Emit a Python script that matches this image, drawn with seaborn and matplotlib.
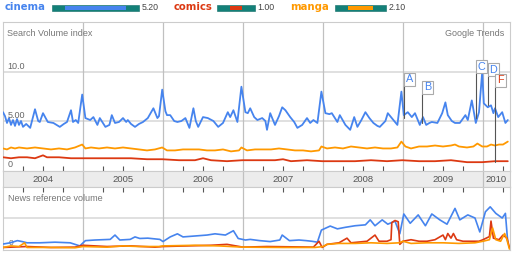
import matplotlib
matplotlib.use("Agg")
import matplotlib.pyplot as plt
from matplotlib.patches import Rectangle, FancyBboxPatch
import seaborn as sns

# ---------------- data ----------------
series_names = ["cinema", "comics", "manga"]
series_avgs = [5.20, 1.00, 2.10]
series_colors = ["#4684ee", "#dc3912", "#ff9900"]

year_labels = [2004, 2005, 2006, 2007, 2008, 2009, 2010]
x_start, x_end = 2004.0, 2010.3375

cinema_years = [2004.00, 2004.025, 2004.05, 2004.075, 2004.10, 2004.125, 2004.15, 2004.175, 2004.20, 2004.225,
                2004.25, 2004.29, 2004.34, 2004.40, 2004.44, 2004.46, 2004.50, 2004.56, 2004.63, 2004.71,
                2004.76, 2004.80, 2004.85, 2004.875, 2004.91, 2004.94, 2004.99, 2005.03, 2005.06, 2005.09,
                2005.13, 2005.18, 2005.21, 2005.28, 2005.33, 2005.36, 2005.40, 2005.45, 2005.50, 2005.54,
                2005.56, 2005.60, 2005.65, 2005.70, 2005.75, 2005.81, 2005.88, 2005.93, 2005.95, 2005.99,
                2006.03, 2006.05, 2006.09, 2006.14, 2006.18, 2006.23, 2006.28, 2006.33, 2006.38, 2006.41,
                2006.44, 2006.50, 2006.56, 2006.63, 2006.69, 2006.75, 2006.81, 2006.84, 2006.88, 2006.93,
                2006.98, 2007.03, 2007.06, 2007.09, 2007.14, 2007.18, 2007.24, 2007.28, 2007.30, 2007.34,
                2007.40, 2007.45, 2007.49, 2007.53, 2007.59, 2007.64, 2007.68, 2007.74, 2007.80, 2007.84,
                2007.88, 2007.93, 2007.98, 2008.03, 2008.08, 2008.11, 2008.18, 2008.21, 2008.28, 2008.34,
                2008.39, 2008.43, 2008.48, 2008.53, 2008.58, 2008.63, 2008.68, 2008.71, 2008.78, 2008.81,
                2008.88, 2008.93, 2008.98, 2009.01, 2009.06, 2009.11, 2009.15, 2009.21, 2009.25, 2009.29,
                2009.33, 2009.36, 2009.43, 2009.49, 2009.53, 2009.56, 2009.61, 2009.65, 2009.71, 2009.78,
                2009.81, 2009.86, 2009.91, 2009.95, 2009.99, 2010.01, 2010.06, 2010.10, 2010.13, 2010.15,
                2010.19, 2010.24, 2010.28, 2010.31]
cinema_values = [5.9, 5.5, 4.8, 5.3, 4.6, 5.1, 4.5, 5.2, 4.6, 5.0,
                 4.4, 4.7, 4.3, 6.2, 5.0, 4.9, 5.8, 4.9, 4.8, 4.4,
                 4.7, 4.9, 6.1, 4.9, 5.1, 4.8, 7.7, 5.3, 5.2, 5.1,
                 5.4, 4.6, 5.3, 4.4, 4.6, 5.6, 4.8, 4.9, 5.3, 4.9,
                 5.1, 4.7, 4.4, 4.7, 4.9, 5.3, 6.3, 5.3, 5.5, 8.2,
                 6.0, 5.6, 5.6, 5.0, 4.9, 5.0, 5.3, 4.3, 6.3, 5.0,
                 4.4, 5.4, 5.3, 5.0, 4.4, 4.8, 5.9, 5.4, 6.1, 4.9,
                 8.5, 5.9, 5.8, 6.3, 5.4, 5.1, 5.3, 5.0, 4.1, 5.8,
                 4.6, 5.5, 6.4, 6.1, 5.4, 4.9, 4.3, 4.6, 5.3, 4.8,
                 5.1, 4.8, 8.0, 5.8, 5.7, 5.8, 4.9, 5.6, 4.6, 4.1,
                 5.4, 4.4, 5.1, 5.9, 5.3, 4.8, 4.5, 4.4, 5.0, 5.8,
                 5.1, 4.6, 8.0, 5.6, 5.9, 5.4, 5.8, 4.6, 5.4, 4.6,
                 4.8, 4.9, 4.8, 5.8, 6.9, 5.6, 5.0, 4.8, 4.8, 5.6,
                 5.1, 7.1, 4.8, 5.9, 10.0, 6.8, 6.4, 6.6, 5.8, 6.3,
                 5.4, 5.9, 4.8, 5.1]

manga_years = [2004.00, 2004.05, 2004.10, 2004.15, 2004.20, 2004.30, 2004.40, 2004.50, 2004.60, 2004.70,
               2004.80, 2004.90, 2004.99, 2005.03, 2005.10, 2005.20, 2005.30, 2005.40, 2005.50, 2005.60,
               2005.70, 2005.80, 2005.90, 2005.99, 2006.05, 2006.15, 2006.25, 2006.35, 2006.45, 2006.55,
               2006.65, 2006.75, 2006.85, 2006.95, 2006.98, 2007.05, 2007.15, 2007.25, 2007.35, 2007.45,
               2007.55, 2007.65, 2007.75, 2007.85, 2007.95, 2007.98, 2008.05, 2008.15, 2008.25, 2008.35,
               2008.45, 2008.55, 2008.65, 2008.75, 2008.85, 2008.93, 2008.98, 2009.03, 2009.10, 2009.20,
               2009.30, 2009.40, 2009.50, 2009.60, 2009.65, 2009.70, 2009.80, 2009.88, 2009.93, 2009.99,
               2010.05, 2010.10, 2010.15, 2010.20, 2010.25, 2010.31]
manga_values = [2.2, 2.1, 2.3, 2.2, 2.3, 2.2, 2.3, 2.2, 2.1, 2.2,
                2.1, 2.3, 2.6, 2.2, 2.3, 2.2, 2.3, 2.2, 2.3, 2.2,
                2.1, 2.0, 2.1, 2.3, 2.0, 2.0, 2.1, 2.1, 2.1, 2.0,
                2.0, 2.1, 1.9, 2.0, 2.3, 2.0, 2.1, 2.1, 2.1, 2.2,
                2.1, 2.0, 2.0, 1.9, 2.0, 2.4, 2.2, 2.3, 2.2, 2.4,
                2.3, 2.2, 2.3, 2.2, 2.2, 2.3, 2.9, 2.4, 2.2, 2.4,
                2.4, 2.5, 2.4, 2.5, 2.6, 2.4, 2.3, 2.4, 2.7, 2.4,
                2.4, 2.6, 2.5, 2.6, 2.6, 2.9]

comics_years = [2004.00, 2004.10, 2004.20, 2004.30, 2004.40, 2004.50, 2004.55, 2004.70, 2004.85, 2004.99,
                2005.20, 2005.40, 2005.60, 2005.80, 2005.99, 2006.20, 2006.40, 2006.50, 2006.60, 2006.80,
                2006.99, 2007.20, 2007.40, 2007.50, 2007.60, 2007.80, 2007.99, 2008.20, 2008.40, 2008.60,
                2008.80, 2008.99, 2009.20, 2009.40, 2009.60, 2009.80, 2009.99, 2010.15, 2010.31]
comics_values = [1.3, 1.2, 1.3, 1.3, 1.2, 1.5, 1.3, 1.3, 1.2, 1.2,
                 1.2, 1.2, 1.2, 1.1, 1.1, 1.0, 1.0, 1.2, 1.0, 0.9,
                 1.0, 1.0, 1.0, 1.1, 0.9, 1.0, 0.9, 0.9, 0.9, 1.0,
                 0.9, 1.0, 0.9, 0.9, 1.0, 0.8, 0.8, 0.9, 0.9]

# news reference volume
cinema_news_years = [2004.00, 2004.09, 2004.18, 2004.24, 2004.30, 2004.46, 2004.65, 2004.84, 2004.96, 2005.03,
                     2005.15, 2005.34, 2005.40, 2005.46, 2005.59, 2005.65, 2005.71, 2005.81, 2005.96, 2006.00,
                     2006.09, 2006.18, 2006.25, 2006.40, 2006.55, 2006.65, 2006.78, 2006.88, 2006.94, 2007.03,
                     2007.09, 2007.21, 2007.34, 2007.46, 2007.49, 2007.58, 2007.70, 2007.79, 2007.86, 2007.93,
                     2007.98, 2008.09, 2008.18, 2008.28, 2008.40, 2008.53, 2008.59, 2008.65, 2008.74, 2008.81,
                     2008.90, 2008.96, 2009.01, 2009.09, 2009.19, 2009.28, 2009.36, 2009.46, 2009.55, 2009.65,
                     2009.71, 2009.81, 2009.90, 2009.96, 2010.03, 2010.09, 2010.16, 2010.24, 2010.28, 2010.31]
cinema_news_values = [0.16, 0.20, 0.27, 0.24, 0.20, 0.20, 0.22, 0.20, 0.10, 0.27,
                      0.29, 0.31, 0.45, 0.29, 0.31, 0.39, 0.34, 0.35, 0.31, 0.24,
                      0.39, 0.49, 0.39, 0.42, 0.45, 0.49, 0.45, 0.59, 0.34, 0.29,
                      0.31, 0.27, 0.24, 0.29, 0.45, 0.27, 0.29, 0.27, 0.25, 0.22,
                      0.61, 0.74, 0.65, 0.70, 0.75, 0.78, 0.94, 0.75, 0.94, 0.80,
                      0.90, 0.49, 1.13, 0.83, 1.10, 0.75, 1.13, 0.94, 0.80, 1.31,
                      0.94, 1.10, 1.00, 0.55, 1.20, 1.36, 1.15, 1.00, 1.15, 0.20]

comics_news_years = [2004.00, 2004.30, 2004.60, 2004.90, 2005.00, 2005.30, 2005.60, 2005.90, 2006.00, 2006.30,
                     2006.60, 2006.80, 2007.00, 2007.30, 2007.60, 2007.88, 2007.95, 2007.99, 2008.05, 2008.20,
                     2008.30, 2008.35, 2008.55, 2008.65, 2008.70, 2008.80, 2008.85, 2008.86, 2008.90, 2008.94,
                     2008.96, 2009.00, 2009.10, 2009.20, 2009.30, 2009.40, 2009.50, 2009.53, 2009.56, 2009.60,
                     2009.63, 2009.67, 2009.75, 2009.85, 2009.95, 2010.00, 2010.08, 2010.10, 2010.13, 2010.20,
                     2010.25, 2010.30, 2010.33]
comics_news_values = [0.05, 0.08, 0.05, 0.06, 0.12, 0.08, 0.10, 0.06, 0.08, 0.10,
                      0.12, 0.15, 0.06, 0.08, 0.07, 0.06, 0.25, 0.05, 0.15, 0.20,
                      0.35, 0.20, 0.25, 0.45, 0.25, 0.25, 0.30, 0.85, 0.92, 0.88,
                      0.15, 0.25, 0.30, 0.25, 0.25, 0.30, 0.45, 0.30, 0.50, 0.35,
                      0.50, 0.30, 0.25, 0.25, 0.25, 0.30, 0.40, 0.90, 0.35, 0.30,
                      0.45, 0.35, 0.05]

manga_news_years = [2004.00, 2004.10, 2004.20, 2004.27, 2004.30, 2004.60, 2004.90, 2005.00, 2005.30, 2005.50,
                    2005.70, 2005.95, 2006.00, 2006.40, 2006.70, 2007.00, 2007.50, 2007.90, 2008.00, 2008.05,
                    2008.20, 2008.40, 2008.60, 2008.80, 2008.95, 2009.00, 2009.10, 2009.30, 2009.50, 2009.70,
                    2009.90, 2010.00, 2010.08, 2010.12, 2010.16, 2010.22, 2010.27, 2010.30, 2010.33]
manga_news_values = [0.05, 0.10, 0.08, 0.20, 0.05, 0.05, 0.04, 0.08, 0.06, 0.10,
                     0.08, 0.08, 0.10, 0.12, 0.10, 0.06, 0.05, 0.05, 0.08, 0.15,
                     0.18, 0.18, 0.20, 0.18, 0.20, 0.25, 0.18, 0.20, 0.20, 0.18,
                     0.20, 0.25, 0.30, 0.68, 0.30, 0.25, 0.50, 0.30, 0.00]

# annotations (event markers)
event_letters = ["A", "B", "C", "D", "F"]
event_series = ["cinema", "cinema", "cinema", "cinema", "comics"]
event_dates = [2009.01, 2009.24, 2009.91, 2010.06, 2010.15]
event_values = [5.3, 4.8, 5.3, 6.6, 0.8]

# ---------------- style ----------------
sns.set_theme(style="white")
plt.rcParams["font.family"] = ["Liberation Sans", "DejaVu Sans"]

W, H = 512, 256
fig = plt.figure(figsize=(W / 100, H / 100), dpi=100)


def fx(px):
    return px / W


def fy(py):
    return 1 - py / H


grid_c = "#dddddd"
frame_c = "#cccccc"
year_c = "#c0c0c0"
text_c = "#666666"

# ---------------- legend row ----------------
legend_layout = [(5, 52), (174, 217), (290, 335)]  # name x, box x (px)
px_per_unit = 11.7
for name, avg, col, (nx, bx) in zip(series_names, series_avgs, series_colors, legend_layout):
    fig.text(fx(nx), fy(7.5), name, color=col, fontsize=7.3, fontweight="bold",
             family="DejaVu Sans", va="center", ha="left")
    inner = avg * px_per_unit
    bw = inner + 26
    fig.patches.append(Rectangle((fx(bx), fy(11)), fx(bw), 6 / H, transform=fig.transFigure,
                                 facecolor="#138078", edgecolor="#0f6c65", lw=0.4))
    fig.patches.append(Rectangle((fx(bx + 13), fy(10)), fx(inner), 4 / H, transform=fig.transFigure,
                                 facecolor=col, edgecolor="none"))
    fig.text(fx(bx + bw + 3), fy(7.5), f"{avg:.2f}", color="#444444", fontsize=6.3,
             va="center", ha="left")

# ---------------- top panel ----------------
ax = fig.add_axes([fx(3), fy(171), fx(507), 149 / H])
for name, xs, ys, col in [("comics", comics_years, comics_values, series_colors[1]),
                          ("manga", manga_years, manga_values, series_colors[2]),
                          ("cinema", cinema_years, cinema_values, series_colors[0])]:
    sns.lineplot(x=xs, y=ys, ax=ax, color=col, lw=1.3, estimator=None, sort=False, zorder=3)
ax.set_xlim(x_start, x_end)
ax.set_ylim(-0.1, 15.1)
for v in [5, 10]:
    ax.axhline(v, color=grid_c, lw=1.3, zorder=1)
for yv in year_labels[1:]:
    ax.axvline(yv, color=year_c, lw=0.9, zorder=2)
ax.set_xticks([y + q for y in year_labels for q in (0.25, 0.5, 0.75) if y + q < x_end], minor=True)
ax.set_xticks([])
ax.set_yticks([])
ax.tick_params(which="minor", direction="in", length=3.5, width=0.8, color="#555555",
               bottom=True, top=False, pad=0)
ax.set_xlabel("")
ax.set_ylabel("")
for s in ax.spines.values():
    s.set_color(frame_c)
    s.set_linewidth(0.8)
ax.text(0.008, 0.925, "Search Volume index", transform=ax.transAxes, fontsize=6.5,
        color="#777777", ha="left", va="center")
ax.text(0.988, 0.925, "Google Trends", transform=ax.transAxes, fontsize=6.5,
        color="#777777", ha="right", va="center")
for v, lab in [(10, "10.0"), (5, "5.00"), (0, "0")]:
    ax.text(0.009, v + 0.15, lab, transform=ax.get_yaxis_transform(), fontsize=6.5,
            color=text_c, ha="left", va="bottom", zorder=4)

# event markers
box_tops = [9.9, 9.1, 11.2, 10.9, 9.8]
box_w, box_h = 11 / 80, 13 / 9.8
color_of = dict(zip(series_names, series_colors))
for let, ser, d, v, top in zip(event_letters, event_series, event_dates, event_values, box_tops):
    ax.plot([d, d], [v, top - box_h], color="#555555", lw=0.8, zorder=5)
    ax.add_patch(Rectangle((d, top - box_h), box_w, box_h, facecolor="white",
                           edgecolor="#aaaaaa", lw=0.8, zorder=6))
    ax.text(d + box_w / 2, top - box_h / 2, let, color=color_of[ser], fontsize=7.8,
            ha="center", va="center", zorder=7)

# ---------------- year band ----------------
axb = fig.add_axes([fx(3), fy(187), fx(507), 16 / H])
axb.set_facecolor("#ececec")
axb.set_xlim(x_start, x_end)
axb.set_ylim(0, 1)
axb.set_xticks([])
axb.set_yticks([])
for s in axb.spines.values():
    s.set_color(frame_c)
    s.set_linewidth(0.8)
for yv in year_labels[1:]:
    axb.axvline(yv, color=year_c, lw=0.9)
for yv in year_labels:
    mid = (yv + min(yv + 1, x_end)) / 2
    axb.text(mid, 0.45, str(yv), fontsize=6.8, color="#555555", ha="center", va="center")

# ---------------- news panel ----------------
axn = fig.add_axes([fx(3), fy(250), fx(507), 63 / H])
for xs, ys, col in [(cinema_news_years, cinema_news_values, series_colors[0]),
                    (comics_news_years, comics_news_values, series_colors[1]),
                    (manga_news_years, manga_news_values, series_colors[2])]:
    sns.lineplot(x=xs, y=ys, ax=axn, color=col, lw=1.2, estimator=None, sort=False, zorder=3)
axn.set_xlim(x_start, x_end)
axn.set_ylim(-0.032, 2.0)
axn.axhline(1.0, color=grid_c, lw=1.3, zorder=1)
for yv in year_labels[1:]:
    axn.axvline(yv, color=year_c, lw=0.9, zorder=2)
axn.set_xticks([y + q for y in year_labels for q in (0.25, 0.5, 0.75) if y + q < x_end], minor=True)
axn.set_xticks([])
axn.set_yticks([])
axn.tick_params(which="minor", direction="in", length=3.5, width=0.8, color="#555555",
                bottom=False, top=True, labeltop=False, pad=0)
axn.set_xlabel("")
axn.set_ylabel("")
for s in axn.spines.values():
    s.set_color(frame_c)
    s.set_linewidth(0.8)
axn.text(0.01, 0.82, "News reference volume", transform=axn.transAxes, fontsize=6.5,
         color="#777777", ha="left", va="center")
axn.text(0.012, 0.08, "0", transform=axn.get_yaxis_transform(), fontsize=6.0,
         color=text_c, ha="left", va="bottom", zorder=2)

fig.savefig("out.png", dpi=100)
